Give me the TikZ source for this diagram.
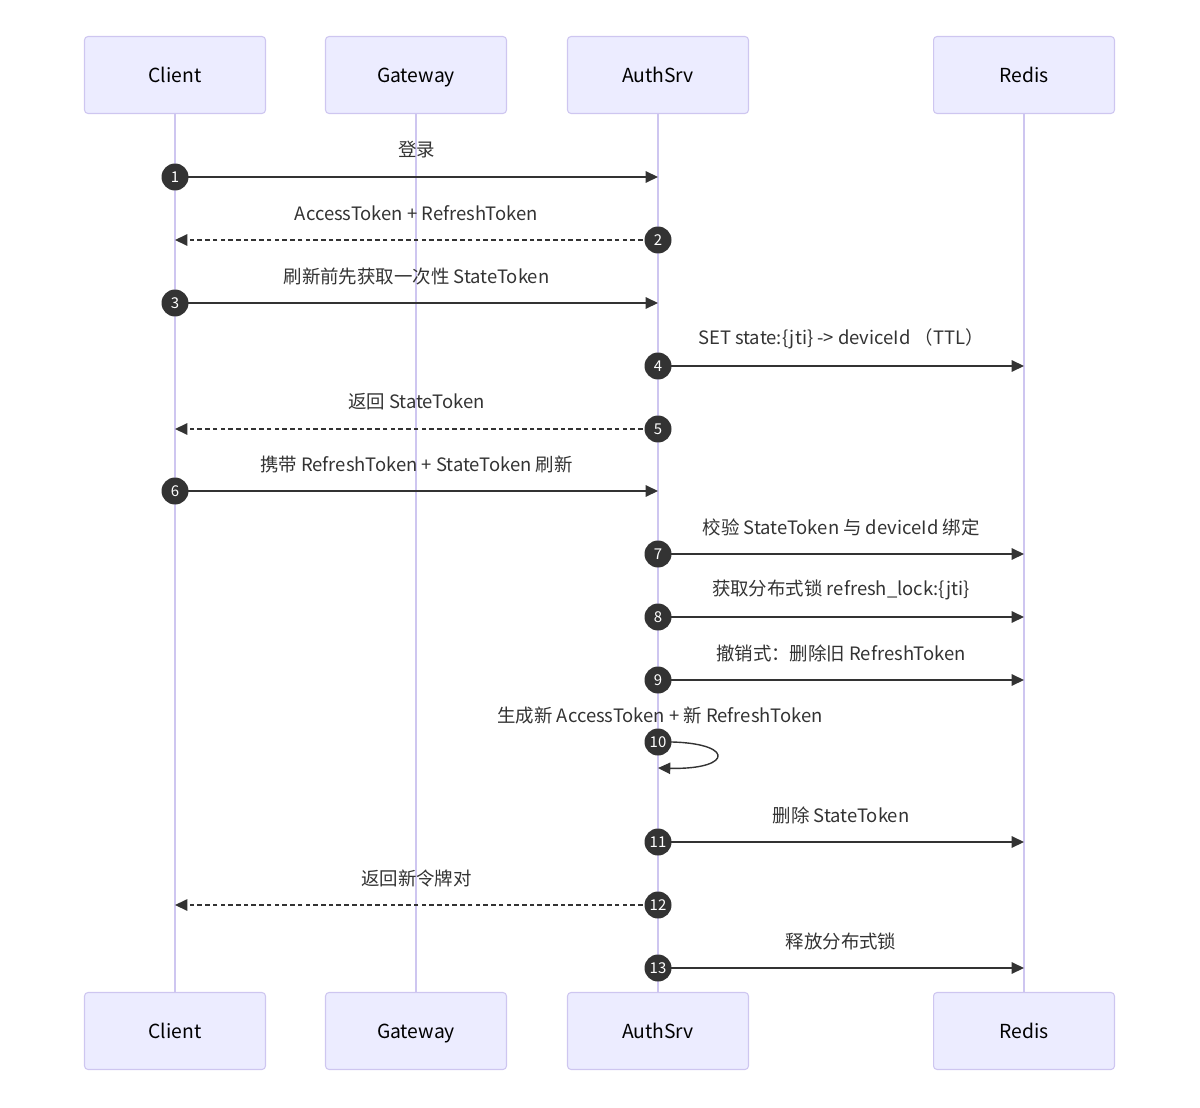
\documentclass[tikz,border=0pt]{standalone}
\usepackage{fontspec}
\setmainfont{Noto Sans CJK SC}
\usetikzlibrary{arrows.meta}
\definecolor{ActorFill}{RGB}{236,236,255}
\definecolor{ActorLine}{RGB}{206,198,240}
\definecolor{MsgGray}{RGB}{51,51,51}
\tikzset{
  actor/.style={draw=ActorLine,fill=ActorFill,rounded corners=2pt,
    line width=0.6pt,minimum width=3.62cm,minimum height=1.54cm,
    text height=2ex,text depth=0.4ex,
    font=\fontsize{11}{13}\selectfont,text=black},
  lifeline/.style={draw=ActorLine,line width=1.1pt},
  msg/.style={-{Triangle[length=7pt,width=6.5pt]},MsgGray,line width=0.8pt},
  reply/.style={msg,dash pattern=on 2.6pt off 1.8pt},
  seqnum/.style={circle,fill=MsgGray,text=white,inner sep=0pt,
    minimum size=0.54cm,font=\fontsize{8.5}{9}\selectfont},
  msgtext/.style={font=\fontsize{10.5}{12}\selectfont,text=MsgGray,yshift=0.54cm}
}
\begin{document}
\begin{tikzpicture}[x=0.02cm,y=-0.02cm]
      \useasboundingbox (0,0) rectangle (1200,1108);
      % actors
      \node[actor] (client) at (175,75) {Client};
      \node[actor] (gateway) at (416,75) {Gateway};
      \node[actor] (authsrv) at (658,75) {AuthSrv};
      \node[actor] (redis) at (1024,75) {Redis};
      \node[actor] (clientB) at (175,1031) {Client};
      \node[actor] (gatewayB) at (416,1031) {Gateway};
      \node[actor] (authsrvB) at (658,1031) {AuthSrv};
      \node[actor] (redisB) at (1024,1031) {Redis};

      \draw[lifeline] (client) -- (clientB);
      \draw[lifeline] (gateway) -- (gatewayB);
      \draw[lifeline] (authsrv) -- (authsrvB);
      \draw[lifeline] (redis) -- (redisB);

      % messages
      \coordinate (s1) at (175,177);
      \coordinate (t1) at (s1 -| authsrv);
      \draw[msg] (s1) -- node[msgtext]{登录} (t1);
      \node[seqnum] (n1) at (s1) {1};

      \coordinate (s2) at (658,240);
      \coordinate (t2) at (s2 -| client);
      \draw[reply] (s2) -- node[msgtext]{AccessToken + RefreshToken} (t2);
      \node[seqnum] (n2) at (s2) {2};

      \coordinate (s3) at (175,303);
      \coordinate (t3) at (s3 -| authsrv);
      \draw[msg] (s3) -- node[msgtext]{刷新前先获取一次性 StateToken} (t3);
      \node[seqnum] (n3) at (s3) {3};

      \coordinate (s4) at (658,366);
      \coordinate (t4) at (s4 -| redis);
      \draw[msg] (s4) -- node[msgtext]{SET state:\{jti\} -> deviceId\ （TTL）} (t4);
      \node[seqnum] (n4) at (s4) {4};

      \coordinate (s5) at (658,429);
      \coordinate (t5) at (s5 -| client);
      \draw[reply] (s5) -- node[msgtext]{返回 StateToken} (t5);
      \node[seqnum] (n5) at (s5) {5};

      \coordinate (s6) at (175,491);
      \coordinate (t6) at (s6 -| authsrv);
      \draw[msg] (s6) -- node[msgtext]{携带 RefreshToken + StateToken 刷新} (t6);
      \node[seqnum] (n6) at (s6) {6};

      \coordinate (s7) at (658,554);
      \coordinate (t7) at (s7 -| redis);
      \draw[msg] (s7) -- node[msgtext]{校验 StateToken 与 deviceId 绑定} (t7);
      \node[seqnum] (n7) at (s7) {7};

      \coordinate (s8) at (658,617);
      \coordinate (t8) at (s8 -| redis);
      \draw[msg] (s8) -- node[msgtext]{获取分布式锁 refresh\_lock:\{jti\}} (t8);
      \node[seqnum] (n8) at (s8) {8};

      \coordinate (s9) at (658,680);
      \coordinate (t9) at (s9 -| redis);
      \draw[msg] (s9) -- node[msgtext]{撤销式：删除旧 RefreshToken} (t9);
      \node[seqnum] (n9) at (s9) {9};

      \coordinate (s10) at (658,742);
      \coordinate (t10) at (658,768);
      \draw[msg] (s10) .. controls (736,740) and (736,770) .. (t10);
      \node[msgtext,yshift=-0.54cm] at (660,716) {生成新 AccessToken + 新 RefreshToken};
      \node[seqnum] (n10) at (s10) {10};

      \coordinate (s11) at (658,842);
      \coordinate (t11) at (s11 -| redis);
      \draw[msg] (s11) -- node[msgtext]{删除 StateToken} (t11);
      \node[seqnum] (n11) at (s11) {11};

      \coordinate (s12) at (658,905);
      \coordinate (t12) at (s12 -| client);
      \draw[reply] (s12) -- node[msgtext]{返回新令牌对} (t12);
      \node[seqnum] (n12) at (s12) {12};

      \coordinate (s13) at (658,968);
      \coordinate (t13) at (s13 -| redis);
      \draw[msg] (s13) -- node[msgtext]{释放分布式锁} (t13);
      \node[seqnum] (n13) at (s13) {13};
\end{tikzpicture}
\end{document}
